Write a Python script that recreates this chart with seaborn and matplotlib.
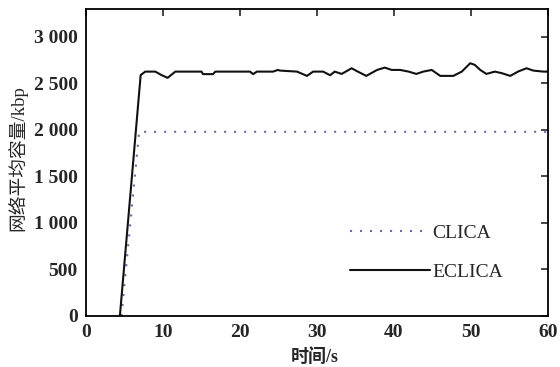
import numpy as np
import pandas as pd
import matplotlib
matplotlib.use("Agg")
import matplotlib.pyplot as plt
import seaborn as sns
from matplotlib.ticker import FuncFormatter

# ---- data ----
eclica_t = [4.4, 7.1, 7.7, 9.0, 9.8, 10.6, 11.6, 15.0, 15.2, 16.5, 16.8, 21.3, 21.7, 22.2, 24.3, 24.9,
            25.2, 27.4, 28.7, 29.5, 30.8, 31.7, 32.3, 33.2, 34.5, 35.3, 36.4, 37.8, 38.8, 39.7, 40.8,
            41.9, 42.9, 43.8, 44.9, 46.0, 47.7, 48.8, 49.9, 50.5, 51.2, 52.0, 53.1, 54.0, 55.1, 56.1,
            57.2, 58.1, 59.4, 60.0]
eclica_v = [0, 2590, 2627, 2627, 2590, 2560, 2627, 2627, 2600, 2600, 2627, 2627, 2600, 2627, 2627, 2645,
            2638, 2627, 2581, 2627, 2627, 2588, 2627, 2602, 2663, 2627, 2581, 2645, 2670, 2645, 2645,
            2627, 2602, 2627, 2645, 2581, 2581, 2627, 2717, 2699, 2645, 2602, 2627, 2610, 2581, 2627,
            2663, 2638, 2627, 2627]
clica_t = [4.6, 6.9, 60.0]
clica_v = [0, 1980, 1980]

x_ticks = [0, 10, 20, 30, 40, 50, 60]
y_ticks = [0, 500, 1000, 1500, 2000, 2500, 3000]
series_names = ["CLICA", "ECLICA"]
x_label = "时间/s"
y_label = "网络平均容量/kbp"

df = pd.concat([
    pd.DataFrame({"t": clica_t, "v": clica_v, "s": series_names[0]}),
    pd.DataFrame({"t": eclica_t, "v": eclica_v, "s": series_names[1]}),
])

sns.set_style("white")
plt.rcParams["font.family"] = ["Liberation Serif", "Noto Sans CJK SC"]

fig = plt.figure(figsize=(5.6, 3.67), dpi=100)
ax = fig.add_axes([86/560, 1-316/367, (548-86)/560, (316-9)/367])

sns.lineplot(data=df[df.s == series_names[0]], x="t", y="v", ax=ax, color="#6a6aa6",
             linestyle=(0, (1, 3.8)), linewidth=1.5, label=series_names[0],
             estimator=None, sort=False)
sns.lineplot(data=df[df.s == series_names[1]], x="t", y="v", ax=ax, color="#111111",
             linewidth=1.5, label=series_names[1], estimator=None, sort=False)

ax.set_xlim(0, 60)
ax.set_ylim(0, 3300)
ax.set_xticks(x_ticks)
ax.set_yticks(y_ticks)
ax.yaxis.set_major_formatter(FuncFormatter(lambda v, p: f"{int(v):,}".replace(",", " ")))
ax.tick_params(direction="in", length=5, width=1.2, top=True, right=True,
               labeltop=False, labelright=False, labelsize=14, pad=6)
for lab in ax.get_xticklabels() + ax.get_yticklabels():
    lab.set_fontweight("bold")
    lab.set_family(["Liberation Serif"])
for sp in ax.spines.values():
    sp.set_linewidth(1.3)
    sp.set_color("black")

ax.set_xlabel(x_label, family=["Liberation Serif", "Noto Sans CJK SC"], fontsize=13,
              fontweight="bold")
ax.xaxis.set_label_coords((315-86)/462, (316-348)/307)
ax.set_ylabel(y_label, family=["Liberation Serif", "Noto Sans CJK SC"], fontsize=13.5)
ax.yaxis.set_label_coords((27-86)/462, (316-158)/307)

leg = ax.legend(loc="center left", bbox_to_anchor=((350-86)/462, (316-252.5)/307),
                frameon=False, borderpad=0, borderaxespad=0,
                prop={"family": "Liberation Serif", "size": 14}, handlelength=4.1,
                handletextpad=0.15, labelspacing=1.1)

fig.savefig("out.png", dpi=100)
